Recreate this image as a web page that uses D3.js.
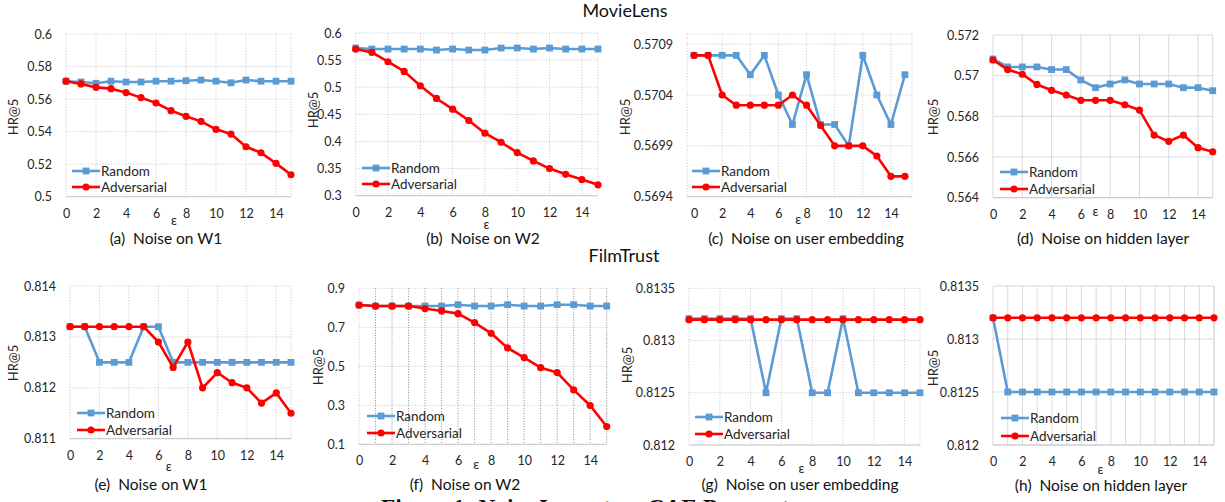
<!DOCTYPE html>
<html><head><meta charset="utf-8">
<script src="https://cdn.jsdelivr.net/npm/d3@7"></script>
<style>
body{margin:0;background:#fff;}
svg{display:block;font-family:Lato,"Open Sans",sans-serif;}
</style>
</head><body>
<svg id="chart" width="1225" height="502"></svg>
<script>
// ---------- DATA ----------
const epsilon = [0,1,2,3,4,5,6,7,8,9,10,11,12,13,14,15];
const xTickValues = [0,2,4,6,8,10,12,14];
const seriesNames = ["Random","Adversarial"];
const groupTitles = ["MovieLens","FilmTrust"];
const panelCaptions = ["(a)  Noise on W1","(b)  Noise on W2","(c)  Noise on user embedding","(d)  Noise on hidden layer",
                       "(e)  Noise on W1","(f)  Noise on W2","(g)  Noise on user embedding","(h)  Noise on hidden layer"];
const figureCaption = "Figure 1: Noise Impact on CAE Parameters";

const mlW1Random      = [0.5710,0.5705,0.5697,0.5710,0.5705,0.5705,0.5710,0.5710,0.5713,0.5717,0.5710,0.5700,0.5717,0.5710,0.5710,0.5710];
const mlW1Adversarial = [0.5710,0.5693,0.5672,0.5664,0.5640,0.5609,0.5576,0.5529,0.5494,0.5463,0.5414,0.5385,0.5307,0.5270,0.5205,0.5135];
const mlW1Ticks  = [0.5,0.52,0.54,0.56,0.58,0.6];
const mlW1Labels = ["0.5","0.52","0.54","0.56","0.58","0.6"];

const mlW2Random      = [0.5723,0.5704,0.5704,0.5704,0.5704,0.5686,0.5704,0.5686,0.5686,0.5723,0.5723,0.5704,0.5723,0.5704,0.5704,0.5704];
const mlW2Adversarial = [0.5704,0.5643,0.5470,0.5292,0.5027,0.4793,0.4596,0.4386,0.4152,0.3986,0.3795,0.3641,0.3500,0.3395,0.3298,0.3200];
const mlW2Ticks  = [0.3,0.35,0.4,0.45,0.5,0.55,0.6];
const mlW2Labels = ["0.3","0.35","0.4","0.45","0.5","0.55","0.6"];

const mlUserRandom      = [0.57079,0.57079,0.57079,0.57079,0.57060,0.57079,0.57040,0.57011,0.57060,0.57011,0.57011,0.56990,0.57079,0.57040,0.57011,0.57060];
const mlUserAdversarial = [0.57079,0.57079,0.57040,0.57030,0.57030,0.57030,0.57030,0.57040,0.57030,0.57010,0.56990,0.56990,0.56990,0.56980,0.56960,0.56960];
const mlUserTicks  = [0.5694,0.5699,0.5704,0.5709];
const mlUserLabels = ["0.5694","0.5699","0.5704","0.5709"];

const mlHiddenRandom      = [0.57082,0.57043,0.57043,0.57043,0.57030,0.57030,0.56979,0.56941,0.56959,0.56979,0.56959,0.56959,0.56959,0.56941,0.56941,0.56926];
const mlHiddenAdversarial = [0.57077,0.57030,0.57007,0.56957,0.56928,0.56905,0.56879,0.56879,0.56879,0.56857,0.56831,0.56708,0.56677,0.56708,0.56646,0.56626];
const mlHiddenTicks  = [0.564,0.566,0.568,0.57,0.572];
const mlHiddenLabels = ["0.564","0.566","0.568","0.57","0.572"];

const ftW1Random      = [0.8132,0.8132,0.8125,0.8125,0.8125,0.8132,0.8132,0.8125,0.8125,0.8125,0.8125,0.8125,0.8125,0.8125,0.8125,0.8125];
const ftW1Adversarial = [0.8132,0.8132,0.8132,0.8132,0.8132,0.8132,0.8129,0.8124,0.8129,0.8120,0.8123,0.8121,0.8120,0.8117,0.8119,0.8115];
const ftW1Ticks  = [0.811,0.812,0.813,0.814];
const ftW1Labels = ["0.811","0.812","0.813","0.814"];

const ftW2Random      = [0.814,0.809,0.809,0.809,0.809,0.809,0.816,0.809,0.809,0.816,0.809,0.809,0.816,0.816,0.809,0.809];
const ftW2Adversarial = [0.814,0.809,0.809,0.809,0.796,0.784,0.770,0.724,0.669,0.594,0.545,0.493,0.468,0.379,0.299,0.191];
const ftW2Ticks  = [0.1,0.3,0.5,0.7,0.9];
const ftW2Labels = ["0.1","0.3","0.5","0.7","0.9"];

const ftUserRandom      = [0.81321,0.81321,0.81321,0.81321,0.81321,0.8125,0.81321,0.81321,0.8125,0.8125,0.81321,0.8125,0.8125,0.8125,0.8125,0.8125];
const ftUserAdversarial = [0.8132,0.8132,0.8132,0.8132,0.8132,0.8132,0.8132,0.8132,0.8132,0.8132,0.8132,0.8132,0.8132,0.8132,0.8132,0.8132];
const ftUserTicks  = [0.812,0.8125,0.813,0.8135];
const ftUserLabels = ["0.812","0.8125","0.813","0.8135"];

const ftHiddenRandom      = [0.8132,0.8125,0.8125,0.8125,0.8125,0.8125,0.8125,0.8125,0.8125,0.8125,0.8125,0.8125,0.8125,0.8125,0.8125,0.8125];
const ftHiddenAdversarial = [0.8132,0.8132,0.8132,0.8132,0.8132,0.8132,0.8132,0.8132,0.8132,0.8132,0.8132,0.8132,0.8132,0.8132,0.8132,0.8132];
const ftHiddenTicks  = ftUserTicks;
const ftHiddenLabels = ftUserLabels;

// ---------- LAYOUT / STYLE ----------
const BLUE = "#5B9BD5", RED = "#FF0000";
const panels = [
  {rnd:mlW1Random, adv:mlW1Adversarial, ticks:mlW1Ticks, labels:mlW1Labels,
   L:66, R:291, T:34, B:196.7, pad:0, grid:"dot", vstep:2, yT:[13,117], leg:[72,171,187], eps:[7.2,225], cap:[166,244]},
  {rnd:mlW2Random, adv:mlW2Adversarial, ticks:mlW2Ticks, labels:mlW2Labels,
   L:355.7, R:598, T:33, B:195.7, pad:0, grid:"dot", vstep:2, yT:[313,110], leg:[362,168,184], eps:[8.1,229], cap:[483,244]},
  {rnd:mlUserRandom, adv:mlUserAdversarial, ticks:mlUserTicks, labels:mlUserLabels, yMax:0.5710,
   L:687, R:912, T:34, B:196.7, pad:0.5, grid:"dot", vstep:2, yT:[625,117], leg:[692,171,187], eps:[7.4,224], cap:[806,244]},
  {rnd:mlHiddenRandom, adv:mlHiddenAdversarial, ticks:mlHiddenTicks, labels:mlHiddenLabels,
   L:993, R:1212.7, T:35, B:197.7, pad:0, grid:"solid", vstep:2, yT:[933,117], leg:[1000,172,189], eps:[7,216], cap:[1103,244]},
  {rnd:ftW1Random, adv:ftW1Adversarial, ticks:ftW1Ticks, labels:ftW1Labels,
   L:70, R:291, T:286, B:438.7, pad:0, grid:"dot", vstep:2, yT:[13,363], leg:[77,413,430], eps:[6.7,471], cap:[151,490]},
  {rnd:ftW2Random, adv:ftW2Adversarial, ticks:ftW2Ticks, labels:ftW2Labels,
   L:359, R:606.7, T:288.3, B:444.3, pad:0, grid:"darkdot", vstep:1, yT:[318,367], leg:[367,416,433], eps:[7.1,469], cap:[465,490]},
  {rnd:ftUserRandom, adv:ftUserAdversarial, ticks:ftUserTicks, labels:ftUserLabels,
   L:689, R:920, T:288.3, B:445, pad:0, grid:"dot", vstep:2, yT:[627,365], leg:[695,417,434], eps:[7.3,473], cap:[800,490]},
  {rnd:ftHiddenRandom, adv:ftHiddenAdversarial, ticks:ftHiddenTicks, labels:ftHiddenLabels,
   L:993, R:1214, T:286, B:445, pad:0, grid:"solid", vstep:1, yT:[933,368], leg:[1001,418,436], eps:[7.3,474], cap:[1101,491]}
];

const svg = d3.select("#chart");

// group titles
svg.append("text").attr("x",625).attr("y",17).attr("text-anchor","middle")
  .attr("font-size",18).attr("fill","#111").text(groupTitles[0]);
svg.append("text").attr("x",624).attr("y",262).attr("text-anchor","middle")
  .attr("font-size",18).attr("fill","#111").text(groupTitles[1]);

panels.forEach((p,i)=>{
  const g = svg.append("g");
  const x = d3.scaleLinear().domain([epsilon[0]-p.pad, epsilon[epsilon.length-1]+p.pad]).range([p.L,p.R]);
  const yMin = p.ticks[0], yMax = p.yMax !== undefined ? p.yMax : p.ticks[p.ticks.length-1];
  const y = d3.scaleLinear().domain([yMin,yMax]).range([p.B,p.T]);

  const gridStroke = p.grid==="solid" ? "#d9d9d9" : (p.grid==="darkdot" ? "#8c8c8c" : "#cfcfcf");
  const dash = p.grid==="solid" ? null : (p.grid==="darkdot" ? "1,1.6" : "1.2,1.6");
  const hStroke = p.grid==="solid" ? "#d9d9d9" : "#cfcfcf";
  const hDash = p.grid==="solid" ? null : "1.2,1.6";

  // horizontal grid
  g.selectAll(".hg").data(p.ticks.concat(yMax!==p.ticks[p.ticks.length-1]?[yMax]:[])).join("line")
    .attr("x1",p.L).attr("x2",p.R).attr("y1",d=>y(d)).attr("y2",d=>y(d))
    .attr("stroke",hStroke).attr("stroke-width",1).attr("stroke-dasharray",hDash);
  // vertical grid
  const vvals = epsilon.filter(v=>v%p.vstep===0 && v>0);
  g.selectAll(".vg").data(vvals).join("line")
    .attr("x1",d=>x(d)).attr("x2",d=>x(d)).attr("y1",p.T).attr("y2",p.B)
    .attr("stroke",gridStroke).attr("stroke-width",1).attr("stroke-dasharray",dash);
  // frame
  g.append("line").attr("x1",p.L).attr("x2",p.L).attr("y1",p.T).attr("y2",p.B)
    .attr("stroke",hStroke).attr("stroke-dasharray",hDash);
  g.append("line").attr("x1",p.R).attr("x2",p.R).attr("y1",p.T).attr("y2",p.B)
    .attr("stroke",hStroke).attr("stroke-dasharray",hDash);
  g.append("line").attr("x1",p.L).attr("x2",p.R).attr("y1",p.B).attr("y2",p.B)
    .attr("stroke","#c8c8c8");

  // axes (labels only)
  const ya = d3.axisLeft(y).tickValues(p.ticks).tickFormat((d,k)=>p.labels[k]).tickSize(0).tickPadding(14);
  const yg = g.append("g").attr("transform",`translate(${p.L},0)`).call(ya);
  const xa = d3.axisBottom(x).tickValues(xTickValues).tickFormat(d3.format("d")).tickSize(0).tickPadding(12);
  const xg = g.append("g").attr("transform",`translate(0,${p.B})`).call(xa);
  [yg,xg].forEach(a=>{
    a.select(".domain").remove();
    a.selectAll("text").attr("font-family","Lato, 'Open Sans', sans-serif").attr("font-size",12.5).attr("fill","#262626");
  });

  // y title
  g.append("text").attr("transform",`translate(${p.yT[0]},${p.yT[1]}) rotate(-90)`)
    .attr("text-anchor","middle").attr("dominant-baseline","central")
    .attr("font-size",13).attr("fill","#262626").text("HR@5");
  // epsilon
  g.append("text").attr("x",x(p.eps[0])).attr("y",p.eps[1]).attr("text-anchor","middle")
    .attr("font-size",13).attr("fill","#262626").text("ε");
  // caption
  g.append("text").attr("x",p.cap[0]).attr("y",p.cap[1]).attr("text-anchor","middle")
    .attr("font-size",15.5).attr("fill","#111").attr("xml:space","preserve").style("white-space","pre")
    .text(panelCaptions[i]);

  // lines
  const line = d3.line().x((d,k)=>x(epsilon[k])).y(d=>y(d));
  g.append("path").datum(p.rnd).attr("d",line).attr("fill","none").attr("stroke",BLUE).attr("stroke-width",2.6).attr("stroke-linejoin","round");
  g.selectAll(".sq").data(p.rnd).join("rect")
    .attr("x",(d,k)=>x(epsilon[k])-3.4).attr("y",d=>y(d)-3.4).attr("width",6.8).attr("height",6.8).attr("fill",BLUE);
  g.append("path").datum(p.adv).attr("d",line).attr("fill","none").attr("stroke",RED).attr("stroke-width",2.6).attr("stroke-linejoin","round");
  g.selectAll(".ci").data(p.adv).join("circle")
    .attr("cx",(d,k)=>x(epsilon[k])).attr("cy",d=>y(d)).attr("r",3.6).attr("fill",RED);

  // legend
  const lx = p.leg[0];
  [[p.leg[1],BLUE,"sq"],[p.leg[2],RED,"ci"]].forEach((e,k)=>{
    g.append("line").attr("x1",lx).attr("x2",lx+28).attr("y1",e[0]).attr("y2",e[0]).attr("stroke",e[1]).attr("stroke-width",2.6);
    if(e[2]==="sq") g.append("rect").attr("x",lx+14-3.4).attr("y",e[0]-3.4).attr("width",6.8).attr("height",6.8).attr("fill",e[1]);
    else g.append("circle").attr("cx",lx+14).attr("cy",e[0]).attr("r",3.6).attr("fill",e[1]);
    g.append("text").attr("x",lx+29).attr("y",e[0]).attr("dominant-baseline","central")
      .attr("font-size",13.5).attr("fill","#262626").text(seriesNames[k]);
  });
});

// figure caption (cut by the bottom edge as in the reference)
svg.append("text").attr("x",600).attr("y",515).attr("text-anchor","middle")
  .attr("font-family","'Liberation Serif','DejaVu Serif',serif").attr("font-weight","bold")
  .attr("font-size",23.5).attr("fill","#111").text(figureCaption);
</script>
</body></html>
